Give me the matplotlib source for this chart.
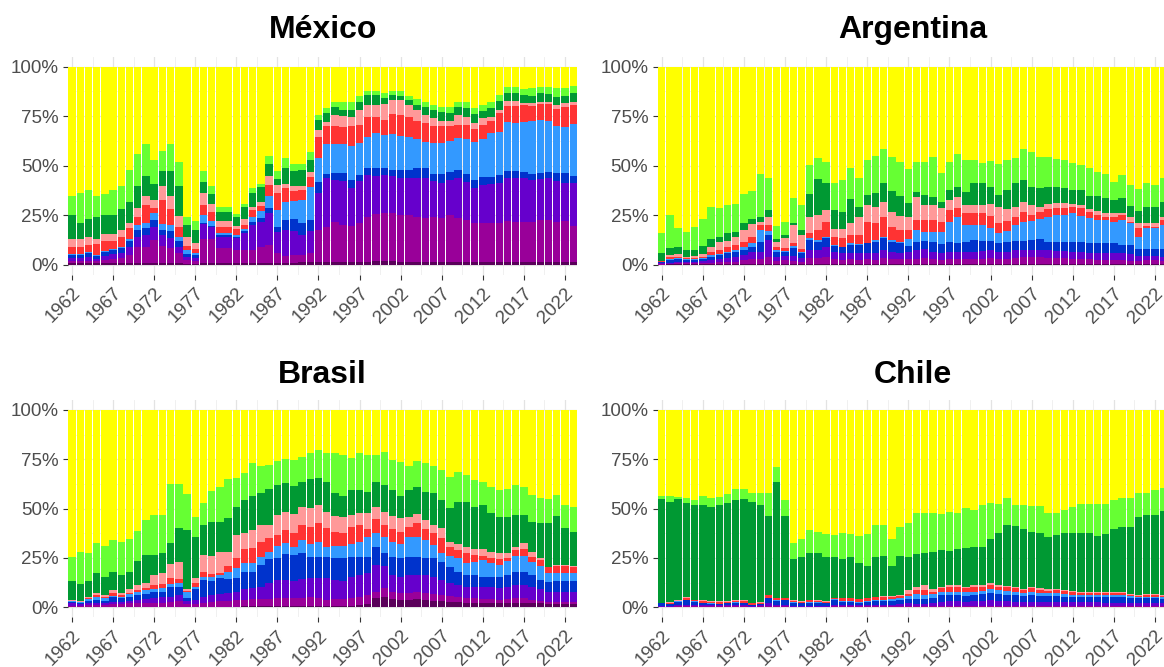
import numpy as np
import matplotlib
matplotlib.use("Agg")
import matplotlib.pyplot as plt
from matplotlib.ticker import FixedLocator

plt.rcParams['font.family'] = ['Liberation Sans', 'DejaVu Sans']

years = list(range(1962, 2024))
countries = ["México", "Argentina", "Brasil", "Chile"]
# stacking order: bottom -> top
categories = ["ht2", "ht1", "mt3", "mt2", "mt1", "lt2", "lt1", "rb2", "rb1", "pp"]
cat_colors = ["#5A005A", "#990099", "#6600CC", "#0033CC", "#3399FF",
              "#FF3333", "#FF9999", "#009933", "#66FF33", "#FFFF00"]
x_ticks = list(range(1962, 2023, 5))
y_ticks = [0, 0.25, 0.5, 0.75, 1.0]
y_labels = ["0%", "25%", "50%", "75%", "100%"]

# ---------------- México ----------------
mx_ht2 = [1,1,1,1,1,1,1,1,1,1, 1,1,1,1,0.5,0.5,1,1,1,1, 1,1,1,1,1,1,1,1,1.5,1.5,
          1.5,1.5,1.5,1.5,1.5,1.5,1.5,2,2,2, 1.5,1.5,1.5,1.5,1.5,1.5,1.5,1.5,1.5,1.5,
          1.5,1.5,1.5,1.5,1.5,1.5,1.5,1.5,1.5,1.5, 1.5,1.5]
mx_ht1 = [1,1,1,1,1.5,2,2.5,4,8,8, 11.5,8.5,7.5,5,2,1.5,12,12,7.5,7.5,
          6.5,6.5,6.6,8,9,5,3.5,4,3.5,4.5, 16.1,17.8,20.3,18.5,18.2,19.5,22.5,23.7,24,24.4,
          23.5,23.5,22.9,22,22.5,22,23.5,22,21.2,19.5, 19.5,19.5,19.8,20.9,20.3,20.3,20.3,21.2,21.2,20.3,
          20.9,18.2]
mx_mt3 = [1.5,1.5,2,1,2,2.5,2.5,4,5,6, 6.5,5.5,5,3,1.5,1.5,7.5,6,5.5,5.5,
          6,8.5,12.6,12.5,16,10.8,13.1,12.1,10,11, 18.9,24.4,21.2,22.5,19,21.5,21.4,19.3,19.4,18.6,
          18.7,18.7,19.3,20.2,18.5,18,18,20.2,19.3,17.7, 19.3,20,20.2,21.3,21.9,21.9,21.1,20.5,21,20.7,
          18.8,21.5]
mx_mt2 = [1.5,1.5,2,1.5,2,2,2.5,3,3.5,3.5, 3.5,2.5,3.5,3,1.5,1.5,0.5,0.5,1,1,
          0.5,1,1.6,2,2.5,2.5,5.1,5.9,6,5.7, 5.5,2.3,3.5,4,4.3,2.9,3.3,4,3.3,3,
          4.3,4.3,5,5,3.5,4.5,4,4.3,4,4.3, 4.2,3.5,3.9,3.9,3.9,3.3,3,3.4,3.4,3.7,
          5.4,3.7]
mx_mt1 = [0.5,0.5,0.5,0.5,0.5,0.5,0.5,1,2.5,2.5, 3.5,3,3,2,2,1,4,2.5,1,1,
          1,1,2.6,3.5,6.5,8.4,9.3,9.3,12,16.8, 11.8,15,14.5,14.5,17,15.9,16,17.4,16.8,18,
          17,16.4,14.7,13.3,15.7,15.7,15.7,16,17.4,19, 18.9,21.9,21.6,24.7,24.2,25.3,26.9,26.5,25.7,23.9,
          23.1,26.2]
mx_lt2 = [3.5,3.5,3.5,5.5,5,4,5,5.5,4,9.5, 2.5,12.5,8,5,2,2,5.5,4.5,3,3,
          3,2,3.3,3,5.5,8.4,6.6,5,5,5, 10.6,9,9,8.7,10,9.3,10.1,8.1,7.5,10,
          10.6,10.4,9.4,9.8,8.3,8.3,7.3,6.6,7.2,6.4, 7.2,6.4,9.5,7.7,8.2,8.4,7.4,7.9,8.2,8.4,
          10.1,9.6]
mx_lt1 = [4,4,4,2.5,3.5,3.5,3.5,2.5,4.5,4.5, 4.5,7,7,5.5,4.5,3,6,4.5,3,3,
          1.5,3,1.7,2,4.5,4.2,2.4,2.2,2,2.5, 3.6,2,5.6,5.3,4.5,7.4,5.9,6.2,8,7,
          7.4,5.9,5.2,3.8,4,2.8,2.8,5,4.2,3, 3.4,2,1.7,2.9,2.9,1.1,1.3,1.4,1.4,2.2,
          1.7,1.7]
mx_rb2 = [12,8,9,11,9.5,9.5,10.5,11,11.5,10, 8,7.5,12.5,15.5,6,6.5,5.5,5,4.5,4.5,
          4.5,6,7.1,7.5,6,2.9,8,7.5,8,6, 5,4.5,3.9,3,3.5,4,5,5,3,2.7,
          2,2.3,2.7,4.2,4,4.5,3.7,3.9,4.2,4.6, 3.8,4.2,4.7,4,4,3.9,3.7,4.2,3.8,4.2,
          3.7,4.2]
mx_rb1 = [10,15.5,15,11,11,13,12,16,16,16, 12,10,13.5,12,4,4.5,5.5,4,2.5,2.5,
          1.5,2,2.2,1.5,4,4.3,5,3.5,3,4, 2.6,2.5,2.5,4,4,3,2.3,2.3,2.5,2.3,
          3,2.4,2.8,2.6,2.7,2.5,3.3,2.9,3.4,3, 2.9,3.4,2.8,3.1,3.1,3.3,3.9,3.3,3.7,4.2,
          3.9,3.7]
mx_pp = [65,63.5,62,65,64,62,60,52,44,39, 47,42.5,39,48,76,78,52.5,60,71,71,
         74.5,69,61.3,59,45,52.5,46,49,49,43, 24.4,21,18,18,18,15,12,12,13.5,12,
         12,14.6,16.5,17.6,19.3,20.2,20.2,17.6,17.6,21, 19.3,17.6,14.3,10,10,11,10.9,10.1,10.1,10.9,
         10.9,9.7]

# ---------------- Argentina ----------------
ar_ht2 = [0.2,0.3,0.3,0.3,0.3,0.3,0.4,0.4,0.4,0.5, 0.5,0.5,0.5,0.5,0.4,0.4,0.4,0.4,0.5,0.5,
          0.5,0.5,0.5,0.5,0.5,0.5,0.5,0.5,0.5,0.5, 0.5,0.5,0.5,0.5,0.5,0.5,0.5,0.5,0.5,0.5,
          0.5,0.5,0.5,0.5,0.5,0.5,0.5,0.5,0.5,0.5, 0.5,0.5,0.5,0.5,0.5,0.5,0.5,0.4,0.4,0.5,
          0.5,0.4]
ar_ht1 = [0.3,0.4,0.5,0.5,0.5,0.7,0.8,0.9,1.1,1.2, 2,2.4,2.4,3.5,1.6,2.1,1.6,1.1,2.9,2.9,
          3.4,2.4,2,2.4,2,2.4,2,2.9,2.4,2.4, 2.4,2.4,2.9,2.4,2,2.4,2.4,2.4,2.4,2.4,
          2.9,2.4,2.4,2.9,3.4,3.4,3.4,2.9,2.9,2.9, 2.6,2.6,2.4,2,2,2,2,1.8,1.8,2,
          2,1.8]
ar_mt3 = [0.4,0.5,0.9,0.7,0.9,1,1.3,1.6,1.9,2.5, 2.5,3.8,3.8,8.5,2.2,2,2.5,1.9,4.2,4.2,
          5.3,3.8,3.4,3,3.4,3,3.4,4.2,3.8,3.3, 3.8,4.7,4.5,3.8,3.7,3.8,3.8,3.8,3.8,4.2,
          4.2,3.8,3.8,4.2,3.7,3.7,3.7,4.2,3.8,3.8, 3.6,3.6,3.3,3.4,3.4,3.7,3.4,3.3,2.3,2,
          2,2]
ar_mt2 = [0.4,1.3,1.2,1,1,1,1.7,2.1,2.5,2.5, 2.6,2.5,5.1,2.5,2.5,2.2,3.9,2.5,5,4.2,
          4.2,2.8,3,4.1,4.1,5,5.9,5.8,5.1,4.7, 2.8,4.2,4.4,5.1,4.3,5.1,4.6,5.1,5.9,5.2,
          4.7,4.2,5.1,4.7,4.7,5,5.3,4.2,4.6,4.6, 5.1,5.1,5.1,5,5,5.1,4.1,4.6,3.4,3.4,
          3.4,3.7]
ar_mt1 = [0.2,0.5,0.5,0.5,0.5,0.5,0.8,0.5,0.6,0.9, 1.6,2.1,5.8,2.3,0.8,0.3,1.1,0.8,0.8,0.8,
          0.5,0.5,0.3,0.9,0.5,0.4,0.8,0.9,0.8,0.9, 3.4,5.8,4.5,5,6.3,10,13.1,8.4,7.6,7.9,
          6.2,5.1,5.5,7.9,9.5,9.8,10.1,12.6,13.4,13.4, 14.2,12.9,12.2,11.8,11.8,10.5,12.7,10.9,6.4,10.6,
          10.6,12.3]
ar_lt2 = [0.3,1.2,0.8,0.5,0.5,0.7,1.7,2.1,2.7,2.4, 2.6,3,2.4,2.9,1.7,1.4,1.8,1.2,2.9,5,
          7.9,4.3,4.2,4.2,4.6,10.5,8.4,10.1,6.7,5.8, 4.7,5.1,5.9,5.9,5,5.9,4.2,5.8,5.8,5.8,
          6.2,5,5.1,4.2,5.1,2.8,3.9,3.7,3.4,3.4, 3.4,3.9,3.4,2.5,1.7,2.6,2.5,0.8,4.2,1.2,
          0.8,2.5]
ar_lt1 = [0.4,0.8,1.3,0.7,0.8,1.3,2.5,4.2,3.1,4, 5.8,6.4,1.8,3.8,2.6,5,8.9,7.2,8.1,7.6,
          5.9,3.7,4.6,5.9,9.3,8.5,8.4,7.6,7.3,7.1, 6.8,11.8,7.6,7.6,6.8,5.1,5.9,4.3,4.3,4.3,
          6.1,8.4,5.7,5,5,5.1,2.5,2.7,2.5,2.5, 1.4,1.7,1.1,2.2,1.6,1.6,1.2,2.6,2.5,1.3,
          1.7,1.7]
ar_rb2 = [3.7,3.4,3.7,3.4,3.1,4.1,3.8,2.5,3.7,2.8, 3.7,2.3,2.2,3.7,1.2,1.7,0.8,2.5,11.4,18,
          13.5,9.7,8.9,12.1,5,5,6.7,9.2,10.9,10.1, 6.7,2.5,5,4.2,3.3,5,5,6.7,10.9,10.9,
          8.7,5.9,9.7,11.8,11,9.2,9.3,8.7,8.4,7.6, 7,7.5,7,7.6,8,7,7.6,5.6,6,8,
          8,7.6]
ar_rb1 = [10.4,16.8,9.3,9.2,11.7,13.4,16.4,14.3,14.3,14, 14.5,14.5,21.9,16,6.7,6.7,12.6,12.7,14.6,10.6,
          10.9,13.5,16,15.6,14.3,17.6,18.9,17.1,17.1,17.3, 17.1,15.1,16.8,19.8,14.7,14.3,16.5,15.9,11.7,10.1,
          13.1,15.6,15.1,12.6,15.4,17.6,15.9,14.8,13.8,14.2, 13.5,12.6,13.7,12.1,11.9,9,11.4,10.3,11.2,12.2,
          11.3,11.7]
ar_pp = [83.7,74.8,81.5,83.2,80.7,77,70.6,71.4,69.7,69.2, 64.2,62.5,54.1,56.3,80.3,78.2,66.4,69.7,49.6,46.2,
         47.9,58.8,57.1,51.3,56.3,47.1,45,41.7,45.4,47.9, 51.8,47.9,47.9,45.7,53.4,47.9,44,47.1,47.1,48.7,
         47.4,49.1,47.1,46.2,41.7,42.9,45.4,45.7,46.7,47.1, 48.7,49.6,51.3,52.9,54.1,58,54.6,59.7,61.8,58.8,
         59.7,56.3]

# ---------------- Brasil ----------------
br_ht2 = [0.3,0.3,0.3,0.3,0.3,0.3,0.3,0.3,0.3,0.3, 0.3,0.3,0.3,0.3,0.3,0.3,0.3,0.3,0.3,0.3,
          0.3,0.5,0.5,0.5,0.5,0.5,0.5,0.5,0.5,0.5, 0.5,0.5,0.5,0.5,0.8,1,1.5,4.6,5,4.1,
          3.7,3.7,4.1,3.7,3.4,3.4,2.9,2.9,2.4,2.4, 2.4,2.4,2,2.4,2.4,2.4,2,2,1.7,1.7,
          1.7,1.7]
br_ht1 = [0.5,0.5,0.7,0.7,0.7,1.4,1.4,1.7,1.7,1.7, 2.1,2.1,2.6,3.1,1.2,1.4,2.1,2.6,3.1,3.1,
          3.4,3.2,3.6,3.6,3.6,4.1,4.1,4.1,4.1,4.6, 4.1,3.2,3.6,3.6,3.8,4.4,4.8,3.3,4.6,3.8,
          3.4,3.4,3.8,3.7,3.4,2.9,2.8,2.5,2.2,2.2, 1.7,1.7,1.7,1.7,2.2,2.2,1.7,1.4,1.2,1.2,
          1.2,1.2]
br_mt3 = [1.2,0.9,1,1.4,1,1.2,1.2,1.4,1.7,2.1, 2.2,2.7,2.5,2.9,1.5,2,3,3.4,3.4,3.7,
          4.2,5.4,5.5,6.4,8.1,9.3,9.3,8.6,9.6,9.6, 10.1,11,9.8,9.1,10.9,11,11.3,13.6,11.2,8.5,
          8.4,9.3,8.5,9,8.7,7.6,6.5,5.9,5.9,5.9, 6.4,6,5.9,6.4,6.7,6.7,6.4,5.7,5,5,
          5,5]
br_mt2 = [0.9,0.7,1.4,1.3,1.4,2.2,1.7,2,2.6,2.7, 3.3,2.8,5.1,4.2,1.5,5.4,8.5,7.2,7.9,7.1,
          6.8,9,8.5,11,12.1,10.9,13.1,13.3,13.2,11, 11,11,10.9,11.6,10.2,9.3,8.1,9.2,6.6,9.3,
          9.3,9.3,9.3,8.4,9.3,9.2,8.4,6.8,5.9,5.9, 5,5.4,5.6,5.9,6.8,6.8,6.3,4.8,5.1,5.6,
          5.6,5.6]
br_mt1 = [0.1,0.1,0.6,1.7,1.2,0.6,0.8,1.4,1.6,2, 1.2,1.7,1.3,1.7,3.4,1.4,1.6,1.7,1.7,3.9,
          5.1,4.5,4.5,4.2,3.9,6.3,5.4,4.2,6.7,6.4, 7.6,5,6.3,6.3,6.4,7.6,9.8,7.1,8.4,7.6,
          7.3,10.1,10.1,9.3,6.8,4.6,5.4,6.7,6.2,6.7, 8.5,6.8,6.3,7.2,7.9,7.9,6.7,7,4.2,3.7,
          3.7,3.7]
br_lt2 = [0.2,0.2,0.6,0.9,0.8,1.4,0.9,0.6,0.9,0.8, 2.2,2.2,2.9,2,0.5,2,2.6,1.7,1.2,2.8,
          5,6.8,7.3,7.6,6.8,5.6,6.8,7.1,7.6,8.8, 9.3,9.3,7.2,6.4,8.4,8.4,4,6.8,5.9,6.2,
          6.2,5.1,6.8,5.4,5.9,7.3,4.7,4.3,4.8,3.4, 2,2.5,2.8,1.2,3.1,3.4,2.2,3.1,3.1,3.7,
          3.7,3.4]
br_lt1 = [0.3,0.3,0.8,0.8,0.9,1.7,0.8,1.7,2.5,2.9, 5.1,5.4,7.3,8.9,1.1,2.2,8.4,9.3,10.6,7.3,
          11.9,8.1,9.3,8.4,6.7,10.1,9.3,9.5,9.3,9.3, 9.3,8.5,8,8.1,6.3,6.3,8.3,6.4,6.8,6.8,
          6.8,5,4.7,4.8,4.2,5,2.6,3,3,2.9, 3.4,3.4,3.1,2.9,1.6,3,2.9,0.8,0.3,0.6,
          0.6,0.3]
br_rb2 = [10,8.8,8.1,10.1,8.9,9.3,9.3,9,12.3,14, 10.1,10.2,10.4,16.9,29.7,21.1,15.2,17.2,15.2,17.2,
          14.3,16.9,17.2,16.4,18.1,15.2,14.3,14.2,12.7,14.7, 13.5,15.2,11.5,10.8,12.7,11.5,10.8,12.7,13.5,13.2,
          11.3,13.6,13.5,14.3,16.1,14.4,16.9,21.4,23.1,21.6, 22.5,19.8,18.5,18.2,16.1,14.4,15.2,18.1,22,24.8,
          18.5,17.4]
br_rb1 = [12.2,16.4,13.9,15.6,15.9,16,16.9,16.4,15.3,17.8, 20.3,19.4,30.1,22.5,18.2,9.8,11,15.7,17.4,19.5,
          14.4,13.5,16.6,13.5,12.3,12.3,12.2,13.2,12.7,13.1, 14.3,14.3,20.6,20.8,16,18.5,18.6,13.5,16.9,15.2,
          17.4,12.1,13.5,14.7,13.8,15.2,16,15.3,13.6,13.5, 11.8,13.1,13.6,13.9,15.2,14.3,13.5,12.3,12.1,10.6,
          11.9,12.7]
br_pp = [74.3,71.8,72.6,67.2,68.9,65.9,66.7,65.5,61.1,55.7, 53.2,53.2,37.5,37.5,42.6,54.4,47.3,40.9,39.2,35.1,
         34.6,32.1,27,28.4,27.9,25.7,25,25.3,23.6,22, 20.3,22,21.6,22.8,24.5,22,22.8,22.8,21.1,25.3,
         26.2,28.4,25.7,26.7,28.4,30.4,33.8,31.2,32.9,35.5, 36.3,38.9,40.5,40.2,38,38.9,43.1,44.8,45.3,43.1,
         48.1,49]

# ---------------- Chile ----------------
cl_ht2 = [0.2]*33 + [0.3]*29
cl_ht1 = [0.2,0.2,0.3,0.3,0.3,0.3,0.3,0.3,0.3,0.3, 0.3,0.2,0.3,0.4,0.3,0.3,0.2,0.2,0.2,0.2,
          0.2,0.3,0.3,0.3,0.3,0.3,0.3,0.3,0.3,0.3, 0.4,0.4,0.4,0.4,0.5,0.5,0.5,0.5,0.5,0.5,
          0.6,0.5,0.5,0.4,0.4,0.4,0.4,0.4,0.4,0.4, 0.3,0.3,0.3,0.3,0.3,0.3,0.3,0.3,0.3,0.3,
          0.3,0.3]
cl_mt3 = [0.3,0.3,0.7,0.7,0.7,0.7,0.5,0.5,0.7,0.7, 0.7,0.4,0.5,1.4,0.7,0.7,0.4,0.4,0.4,0.4,
          0.4,0.7,0.7,0.7,0.7,0.7,0.9,0.9,0.9,1.2, 1.4,1.1,1.1,1.3,2.1,2.6,2.6,2.1,2.6,2.6,
          2.8,2.6,2.6,2.2,2.2,2.2,2.2,2.2,2.2,2.2, 2.1,2.1,2.1,2.1,1.8,1.8,1.8,1.8,1.4,1.4,
          1.4,1.4]
cl_mt2 = [1.3,1,1.7,2.5,1.7,0.8,0.7,0.7,0.8,1.2, 0.8,0.4,0.7,2.6,2.2,2.5,1.6,1.2,1.6,1.6,
          1.2,2.5,1.7,1.7,1.2,1.7,2,2,2,2, 2.1,2.4,2.4,2.6,3.4,2.9,2.9,2.8,2.9,3.2,
          3.4,3.4,2.9,3.4,2.8,3.4,2.8,2.8,2.8,2.5, 2.7,2.4,2.4,2.4,2.7,2.7,2.7,2.2,2.6,2.6,
          2.6,2.1]
cl_mt1 = [0,0.2,0.2,0.2,0.2,0.2,0.3,0.2,0.2,0.2, 0.2,0.2,0.2,0.2,0.2,0.2,0.2,0.2,0.2,0.2,
          0.2,0.4,0.2,0.2,0.2,0.2,0.2,0.2,0.7,0.9, 1.6,2.7,2.2,2.2,1.6,1.6,1.6,2.2,1.6,1.7,
          2,2,2.1,1.6,1.7,1.6,1.7,1.4,1.4,1.4, 0.9,1.2,1.2,1.2,1.2,1.2,1.2,1.1,0.8,0.8,
          0.8,1]
cl_lt2 = [0.2,0.5,0.3,0.7,0.6,1.2,0.9,1,0.7,0.8, 1.2,0.6,0.5,1.5,1,0.7,0.8,0.7,1.1,0.8,
          0.7,0.5,1.5,1.5,1.5,1.5,1.5,1.5,1,1.1, 1.1,2,2.5,1.1,1.7,2.6,2.6,1.7,2.6,2.2,
          2.2,1.7,1.7,1.7,1.4,1.7,1.4,1.3,1.7,1.6, 1.6,1.1,1.1,1.1,1.1,1.1,1.1,0.6,0.3,0.9,
          0.9,0.6]
cl_lt1 = [0,0.2,0.2,0.4,0.2,0.2,0.2,0.2,0.2,0.2, 0.2,0.2,0.2,0.2,0.2,0.2,0.2,0.2,0.2,0.2,
          0.2,0.2,0.2,0.2,0.2,0.2,0.3,0.6,0.6,0.6, 2,1.7,2.5,1.2,0.9,0.8,0.8,0.9,0.8,0.8,
          1.2,0.8,0.7,0.5,0.3,0.9,0.8,0.7,0.3,0.4, 0.5,0.5,0.5,0.5,0.5,0.5,0.5,0.5,0.6,0.5,
          0.5,0.6]
cl_rb2 = [52.5,50.9,51.1,47.7,48,48.3,47.9,48.8,49.6,50.8, 51.1,51.3,49.3,39.8,58.9,41.5,20.7,22.6,23.5,23.8,
          22.6,20.5,19.5,20.9,18,16.1,20.3,20.3,15.2,19.7, 16.5,16.5,16.4,19.1,18.6,17.4,18.1,19.4,19.4,19.4,
          22,26.2,30.9,31.1,30.4,27.8,27.9,26.7,27.6,29, 29.4,29.9,29.9,28.2,29.3,31.6,33,34.1,39.3,40,
          40,42.7]
cl_rb1 = [1.7,2.9,1.4,2.5,2.5,4.5,4.2,4.2,4.7,5.4, 5.1,4.6,6.2,11.8,7.2,8.1,8.5,8.8,11.8,10.9,
          11.5,11.4,13.5,11.5,13.8,16.3,16,15.7,13.6,14.9, 17.3,21,20.3,19.8,18.2,19.8,18.6,20.3,18.6,21.2,
          18.2,14.9,13.5,10.7,12.4,13.1,13.9,12.2,11.3,11.5, 12.9,14.6,14.6,16.3,15.2,14.9,14.3,14.3,12.2,11,
          12.7,11.3]
cl_pp = [43.6,43.6,43.9,44.8,45.6,43.6,44.8,43.9,42.6,40.2, 40.2,41.9,41.9,41.9,29.1,45.6,67.2,65.5,60.8,61.7,
         62.8,63.3,62.2,62.8,63.9,62.8,58.3,58.3,65.5,59.1, 57.4,52,52,52,52.7,51.5,52,49.8,50.7,48.1,
         47.3,47.6,44.8,48.1,48.1,48.6,48.6,52,52,50.7, 49.3,47.6,47.6,47.6,47.6,45.6,44.8,44.8,42.2,42.2,
         40.5,39.7]

data = {
    "México":    [mx_ht2, mx_ht1, mx_mt3, mx_mt2, mx_mt1, mx_lt2, mx_lt1, mx_rb2, mx_rb1, mx_pp],
    "Argentina": [ar_ht2, ar_ht1, ar_mt3, ar_mt2, ar_mt1, ar_lt2, ar_lt1, ar_rb2, ar_rb1, ar_pp],
    "Brasil":    [br_ht2, br_ht1, br_mt3, br_mt2, br_mt1, br_lt2, br_lt1, br_rb2, br_rb1, br_pp],
    "Chile":     [cl_ht2, cl_ht1, cl_mt3, cl_mt2, cl_mt1, cl_lt2, cl_lt1, cl_rb2, cl_rb1, cl_pp],
}

W, H = 1164, 667
fig = plt.figure(figsize=(W / 100, H / 100), dpi=100)
fig.patch.set_facecolor("white")

# panel boxes in pixels: (left, right, top, bottom) and title baseline
panels = {
    "México":    (68.3, 576.9, 56.8, 274.9, 38),
    "Argentina": (658.0, 1166.9, 56.8, 274.9, 38),
    "Brasil":    (68.3, 576.9, 400.1, 617.2, 383),
    "Chile":     (658.0, 1166.9, 400.1, 617.2, 383),
}

for name in countries:
    l, r, t, b, tb = panels[name]
    ax = fig.add_axes([l / W, 1 - b / H, (r - l) / W, (b - t) / H])
    series = [np.array(s, dtype=float) for s in data[name]]
    total = np.sum(series, axis=0)
    bottom = np.zeros(len(years))
    for s, c in zip(series, cat_colors):
        share = s / total
        ax.bar(years, share, bottom=bottom, width=0.9, color=c, linewidth=0, zorder=2)
        bottom = bottom + share
    ax.set_xlim(1961.55, 2023.45)
    ax.set_ylim(-0.05, 1.05)
    ax.xaxis.set_major_locator(FixedLocator(x_ticks))
    ax.xaxis.set_minor_locator(FixedLocator([v + 2.5 for v in x_ticks[:-1]] + [1959.5, 2024.5]))
    ax.yaxis.set_major_locator(FixedLocator(y_ticks))
    ax.yaxis.set_minor_locator(FixedLocator([0.125, 0.375, 0.625, 0.875]))
    ax.set_yticklabels(y_labels)
    ax.set_xticklabels([str(v) for v in x_ticks], rotation=45,
                       ha="right", va="top", rotation_mode="anchor")
    ax.grid(which="major", color="#E3E3E3", linewidth=0.9, zorder=0)
    ax.grid(which="minor", color="#EEEEEE", linewidth=0.6, zorder=0)
    ax.set_axisbelow(True)
    for sp in ax.spines.values():
        sp.set_visible(False)
    ax.tick_params(axis="both", which="major", length=3.6, width=0.8,
                   color="#333333", labelcolor="#4D4D4D", labelsize=13.5)
    ax.tick_params(axis="y", pad=3.5)
    ax.tick_params(axis="x", pad=3.5)
    ax.tick_params(which="minor", length=0)
    cx = (l + r) / 2
    fig.text(cx / W, 1 - tb / H, name, ha="center", va="baseline",
             fontsize=23, fontweight="bold", color="black")

fig.savefig("out.png", dpi=100, facecolor="white")
